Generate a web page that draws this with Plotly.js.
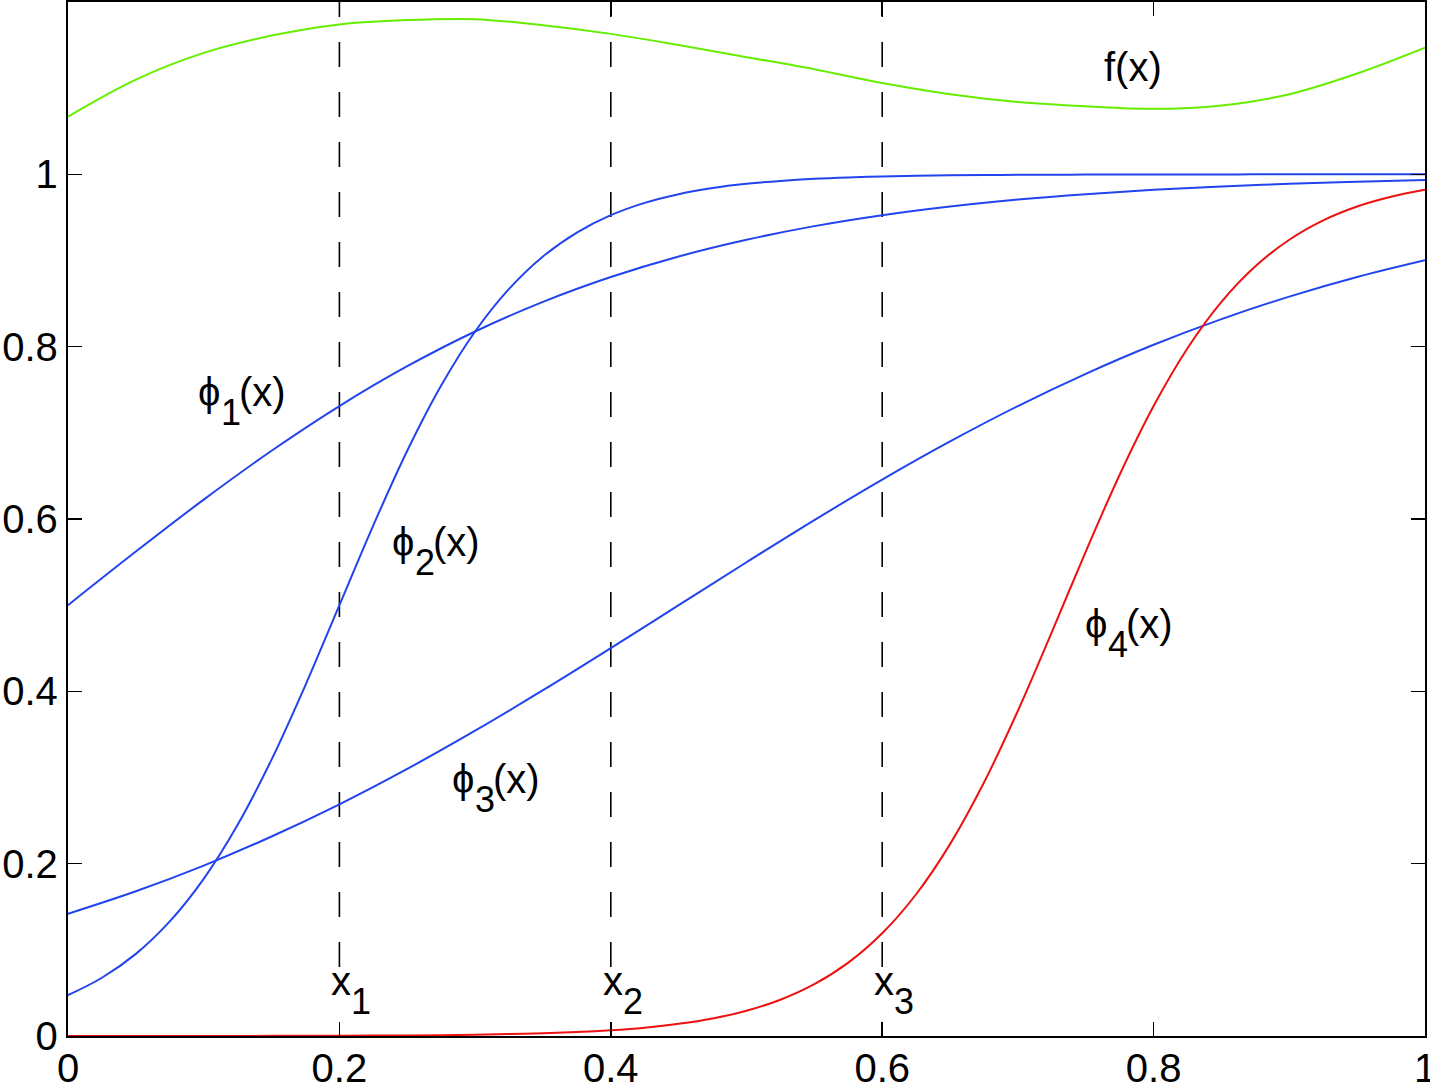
<!DOCTYPE html>
<html>
<head>
<meta charset="utf-8">
<script src="https://cdn.plot.ly/plotly-3.0.1.min.js"></script>
<style>html,body{margin:0;padding:0;background:#fff;}#chart{width:1430px;height:1087px;}</style>
</head>
<body>
<div id="chart"></div>
<script>
// sample grids
var xCoarse = [0,0.05,0.1,0.15,0.2,0.25,0.3,0.35,0.4,0.45,0.5,0.55,0.6,0.65,0.7,0.75,0.8,0.85,0.9,0.95,1];
var xFine = [0,0.025,0.05,0.075,0.1,0.125,0.15,0.175,0.2,0.225,0.25,0.275,0.3,0.325,0.35,0.375,0.4,0.425,0.45,0.475,0.5,0.525,0.55,0.575,0.6,0.625,0.65,0.675,0.7,0.725,0.75,0.775,0.8,0.825,0.85,0.875,0.9,0.925,0.95,0.975,1];

// f(x) (green)
var fVals = [1.067,1.110,1.141,1.161,1.174,1.179,1.180,1.173,1.163,1.150,1.136,1.122,1.106,1.093,1.084,1.079,1.076,1.080,1.093,1.117,1.147];
// phi1 (blue)
var phi1 = [0.5,0.5622,0.6225,0.6792,0.7311,0.7773,0.8176,0.8520,0.8808,0.9047,0.9241,0.9399,0.9526,0.9627,0.9707,0.9770,0.9820,0.9859,0.9890,0.9914,0.9933];
// phi3 (blue)
var phi3 = [0.1419,0.1680,0.1978,0.2315,0.2689,0.3100,0.3543,0.4013,0.4502,0.5,0.5498,0.5987,0.6457,0.6900,0.7311,0.7685,0.8022,0.8320,0.8581,0.8808,0.9002];
// phi2 (blue), fine grid
var phi2 = [0.0474,0.0676,0.0953,0.1330,0.1824,0.2451,0.3208,0.4073,0.5,0.5927,0.6792,0.7549,0.8176,0.8670,0.9047,0.9324,0.9526,0.9669,0.9770,0.9841,0.9890,0.9924,0.9948,0.9964,0.9975,0.9983,0.9988,0.9992,0.9994,0.9996,0.9997,0.9998,0.9999,0.9999,0.9999,1,1,1,1,1,1];
// phi4 (red), fine grid
var phi4 = [0.00002,0.00002,0.00004,0.00005,0.00008,0.0001,0.00016,0.00023,0.00034,0.0005,0.0007,0.001,0.0015,0.0022,0.0032,0.0046,0.0067,0.0097,0.0141,0.0203,0.0293,0.0421,0.0601,0.0851,0.1192,0.1645,0.2227,0.2942,0.3775,0.4688,0.5622,0.6514,0.7311,0.7982,0.8520,0.8933,0.9241,0.9466,0.9627,0.9740,0.9820];

// knot positions (dashed lines) and their labels
var knots = [0.2,0.4,0.6];
var knotSubs = ['1','2','3'];

// tick labels
var xTicks = [0,0.2,0.4,0.6,0.8,1];
var xTickText = ['0','0.2','0.4','0.6','0.8','1'];
var yTicks = [0,0.2,0.4,0.6,0.8,1];
var yTickText = ['0','0.2','0.4','0.6','0.8','1'];

// curve labels: main glyph, subscript, tail
var labelMain = ['f(x)','ϕ','ϕ','ϕ','ϕ'];
var labelSub = ['','1','2','3','4'];
var labelTail = ['','(x)','(x)','(x)','(x)'];

// label placement (layout, not data)
var labelPos = [
  {x:0.762, y:1.124},
  {x:0.0943, y:0.747},
  {x:0.2373, y:0.573},
  {x:0.2813, y:0.298},
  {x:0.7483, y:0.478}
];
var knotLabelY = 0.0635;
var dashBottom = 0.08, dashTop = 1.2;

var BLUE = '#2244ee', GREEN = '#66ee00', RED = '#ee1111';
var FONT = 'Liberation Sans, Arial, Helvetica, sans-serif';
var MAIN = 40, SUB = 36, SUBDROP = -20;

var traces = [];
knots.forEach(function(k){
  traces.push({x:[k,k], y:[dashBottom,dashTop], mode:'lines', line:{color:'#000', width:1.6, dash:'25px,25px'}, hoverinfo:'skip'});
});
traces.push({x:xCoarse, y:fVals, mode:'lines', line:{color:GREEN, width:2, shape:'spline'}});
traces.push({x:xCoarse, y:phi1, mode:'lines', line:{color:BLUE, width:2, shape:'spline'}});
traces.push({x:xFine, y:phi2, mode:'lines', line:{color:BLUE, width:2, shape:'spline'}});
traces.push({x:xCoarse, y:phi3, mode:'lines', line:{color:BLUE, width:2, shape:'spline'}});
traces.push({x:xFine, y:phi4, mode:'lines', line:{color:RED, width:2, shape:'spline'}});

function ann(x, y, text, size, dx, dy){
  return {x:x, y:y, xref:'x', yref:'y', text:text, showarrow:false, xanchor:'left', yanchor:'middle',
          xshift:dx||0, yshift:dy||0, font:{family:FONT, size:size, color:'#000'}};
}

var annotations = [];
labelMain.forEach(function(m, i){
  var p = labelPos[i];
  annotations.push(ann(p.x, p.y, m, MAIN, 0, 0));
  if (labelSub[i]) annotations.push(ann(p.x, p.y, labelSub[i], SUB, 23, SUBDROP));
  if (labelTail[i]) annotations.push(ann(p.x, p.y, labelTail[i], MAIN, 41, 0));
});
knots.forEach(function(k, i){
  annotations.push(ann(k, knotLabelY, 'x', MAIN, -10, 0));
  annotations.push(ann(k, knotLabelY, knotSubs[i], SUB, 10, SUBDROP));
});

var axisCommon = {ticks:'inside', ticklen:14, tickwidth:1.6, tickcolor:'#000', showline:true, linewidth:2.2, linecolor:'#000',
  mirror:'ticks', showgrid:false, zeroline:false, ticklabeloverflow:'allow', tickfont:{family:FONT, size:MAIN, color:'#000'}};

var layout = {
  width:1430, height:1087,
  margin:{l:68, r:5, t:2, b:51},
  paper_bgcolor:'#fff', plot_bgcolor:'#fff',
  showlegend:false,
  font:{family:FONT, size:MAIN, color:'#000'},
  xaxis:Object.assign({range:[0,1], tickvals:xTicks, ticktext:xTickText, ticklabelstandoff:-4}, axisCommon),
  yaxis:Object.assign({range:[0,1.2], tickvals:yTicks, ticktext:yTickText}, axisCommon),
  annotations:annotations
};

Plotly.newPlot('chart', traces, layout, {staticPlot:true, displayModeBar:false});
</script>
</body>
</html>
